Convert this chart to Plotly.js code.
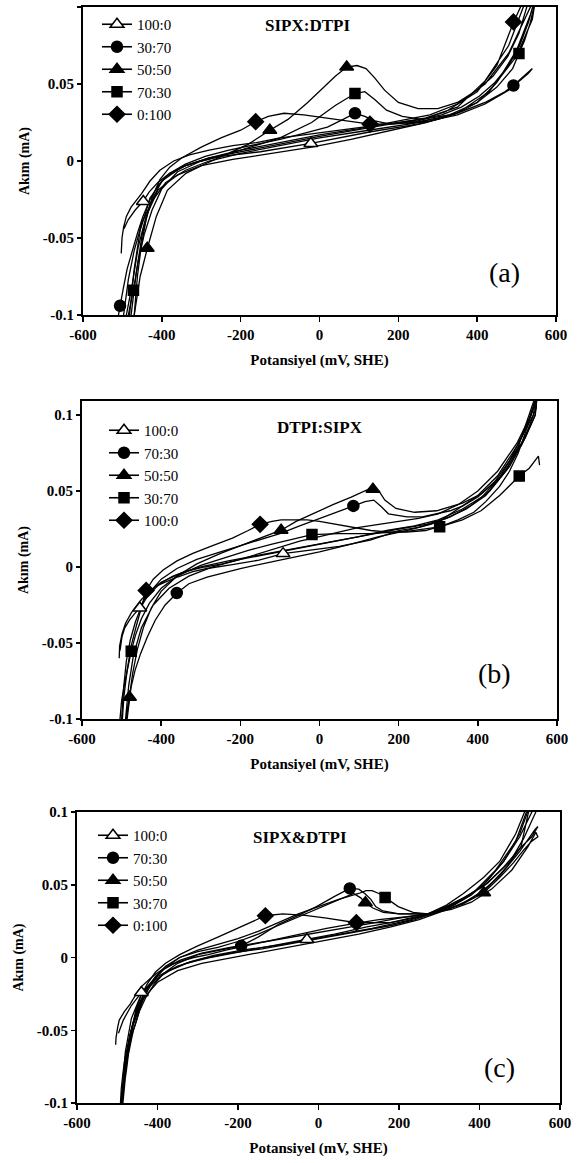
<!DOCTYPE html>
<html>
<head>
<meta charset="utf-8">
<script src="https://cdn.plot.ly/plotly-3.0.1.min.js"></script>
<style>html,body{margin:0;padding:0;background:#fff;}#chart{width:583px;height:1163px;}</style>
</head>
<body>
<div id="chart"></div>
<script>
// ---------- Panel (a) SIPX:DTPI ----------
const aTitle = 'SIPX:DTPI';
const aTag = '(a)';
const aLabels = ['100:0', '30:70', '50:50', '70:30', '0:100'];

const a1X = [-503,-501,-497,-490,-478,-465,-451,-430,-405,-370,-330,-280,-220,-160,-100,-40,20,80,140,200,260,310,360,405,445,480,508,530,545,552,535,500,450,400,350,300,250,130,-22,-150,-250,-300,-340,-380,-410,-432,-447,-468,-485,-496];
const a1Y = [-0.060,-0.050,-0.043,-0.036,-0.030,-0.026,-0.021,-0.013,-0.006,0.000,0.004,0.007,0.010,0.012,0.015,0.017,0.019,0.021,0.023,0.025,0.027,0.030,0.035,0.042,0.051,0.062,0.075,0.090,0.103,0.110,0.095,0.072,0.051,0.038,0.031,0.027,0.024,0.019,0.0114,0.006,0.003,0.000,-0.003,-0.008,-0.014,-0.020,-0.026,-0.032,-0.038,-0.044];
const a1MX = [-22, -447];
const a1MY = [0.0114, -0.0263];

const a2X = [-510,-506,-498,-488,-475,-462,-448,-430,-410,-380,-340,-290,-230,-160,-100,-40,20,60,90,115,140,180,240,300,360,420,470,492,515,540,530,480,420,350,280,200,100,0,-100,-200,-280,-340,-390,-425,-450,-470,-485,-497];
const a2Y = [-0.100,-0.094,-0.083,-0.070,-0.058,-0.047,-0.036,-0.025,-0.016,-0.008,-0.002,0.003,0.007,0.011,0.014,0.018,0.022,0.027,0.031,0.029,0.026,0.024,0.025,0.028,0.032,0.038,0.045,0.049,0.054,0.060,0.057,0.046,0.037,0.030,0.026,0.023,0.019,0.015,0.010,0.005,0.000,-0.006,-0.014,-0.026,-0.040,-0.058,-0.077,-0.100];
const a2MX = [90, 492, -506];
const a2MY = [0.031, 0.049, -0.094];

const a3X = [-470,-455,-437,-414,-386,-339,-283,-230,-180,-126,-80,-30,10,40,69,95,118,140,165,200,250,300,350,400,440,478,506,525,540,535,480,420,350,280,200,100,0,-100,-200,-280,-350,-400,-430,-450,-465,-478];
const a3Y = [-0.100,-0.075,-0.057,-0.036,-0.019,-0.008,-0.001,0.005,0.011,0.020,0.027,0.038,0.048,0.055,0.061,0.062,0.060,0.054,0.046,0.038,0.034,0.034,0.038,0.046,0.055,0.068,0.083,0.100,0.112,0.100,0.070,0.050,0.037,0.030,0.026,0.021,0.017,0.012,0.007,0.002,-0.004,-0.013,-0.028,-0.048,-0.073,-0.100];
const a3MX = [69, -126, -437];
const a3MY = [0.061, 0.020, -0.0566];

const a4X = [-485,-472,-460,-445,-425,-400,-360,-300,-200,-100,-20,40,90,115,140,170,210,260,330,400,450,490,506,520,535,548,540,500,430,350,270,180,80,-20,-120,-220,-300,-360,-410,-440,-460,-475,-490];
const a4Y = [-0.100,-0.084,-0.065,-0.048,-0.032,-0.018,-0.007,0.000,0.007,0.015,0.025,0.036,0.0438,0.045,0.040,0.033,0.029,0.027,0.030,0.038,0.048,0.060,0.0698,0.078,0.090,0.105,0.092,0.068,0.045,0.031,0.025,0.020,0.014,0.009,0.005,0.001,-0.003,-0.009,-0.019,-0.036,-0.056,-0.080,-0.100];
const a4MX = [90, 506, -472];
const a4MY = [0.0438, 0.0698, -0.084];

const a5X = [-470,-462,-452,-440,-425,-405,-380,-350,-300,-250,-200,-162,-130,-90,-40,20,80,128,180,250,320,400,450,492,510,520,532,480,420,350,270,180,80,0,-100,-200,-280,-340,-390,-430,-455,-470,-482];
const a5Y = [-0.100,-0.075,-0.055,-0.038,-0.024,-0.012,-0.004,0.002,0.009,0.015,0.020,0.0255,0.029,0.031,0.030,0.028,0.026,0.024,0.024,0.026,0.032,0.045,0.062,0.090,0.100,0.112,0.110,0.075,0.052,0.035,0.028,0.024,0.020,0.016,0.011,0.006,0.002,-0.003,-0.010,-0.024,-0.045,-0.070,-0.100];
const a5MX = [-162, 128, 492];
const a5MY = [0.0255, 0.024, 0.0903];

// ---------- Panel (b) DTPI:SIPX ----------
const bTitle = 'DTPI:SIPX';
const bTag = '(b)';
const bLabels = ['100:0', '70:30', '50:50', '30:70', '100:0'];

const b1X = [-506,-505,-499,-490,-475,-452,-430,-405,-370,-340,-290,-246,-200,-150,-100,-50,0,50,100,150,200,250,300,350,400,450,500,530,548,540,500,450,400,350,303,250,200,128,50,-92,-153,-220,-284,-320,-359,-390,-415,-440,-454,-468,-480,-492,-499,-504];
const b1Y = [-0.060,-0.052,-0.044,-0.037,-0.030,-0.022,-0.016,-0.011,-0.006,-0.003,0.000,0.002,0.005,0.009,0.013,0.017,0.020,0.023,0.026,0.028,0.030,0.032,0.035,0.041,0.050,0.063,0.082,0.098,0.112,0.100,0.080,0.060,0.047,0.038,0.030,0.026,0.024,0.0176,0.0135,0.0088,0.0045,0.0015,-0.001,-0.003,-0.0066,-0.010,-0.013,-0.020,-0.027,-0.031,-0.035,-0.040,-0.046,-0.055];
const b1MX = [-92, -454];
const b1MY = [0.0088, -0.027];

const b2X = [-500,-495,-488,-478,-465,-450,-430,-400,-360,-310,-250,-200,-150,-100,-50,0,40,85.6,115,137,155,174,200,221,260,296,330,361,400,440,480,510,535,550,545,520,480,430,380,330,280,220,150,80,0,-100,-200,-284,-330,-360,-390,-415,-435,-452,-466,-476,-482,-486];
const b2Y = [-0.100,-0.080,-0.062,-0.048,-0.036,-0.026,-0.017,-0.008,-0.001,0.005,0.010,0.014,0.018,0.022,0.027,0.032,0.036,0.0402,0.043,0.044,0.040,0.035,0.034,0.033,0.033,0.035,0.037,0.040,0.046,0.055,0.070,0.085,0.100,0.112,0.100,0.085,0.066,0.050,0.040,0.033,0.028,0.024,0.020,0.015,0.010,0.0045,-0.001,-0.0066,-0.011,-0.0171,-0.025,-0.035,-0.046,-0.057,-0.068,-0.079,-0.090,-0.100];
const b2MX = [85.6, -360.6];
const b2MY = [0.0402, -0.0171];

const b3X = [-488,-484,-480,-472,-460,-445,-425,-400,-360,-310,-250,-200,-150,-97,-59,-10,34,80,115,135,150,165,193,240,296,361,408,455,502,530,545,548,520,470,420,370,320,270,200,120,40,-40,-120,-200,-270,-330,-380,-420,-450,-470,-482,-490];
const b3Y = [-0.100,-0.093,-0.0857,-0.070,-0.054,-0.040,-0.027,-0.016,-0.006,0.002,0.009,0.014,0.019,0.0242,0.030,0.036,0.041,0.046,0.050,0.0525,0.050,0.044,0.0385,0.036,0.037,0.042,0.048,0.059,0.079,0.101,0.112,0.105,0.086,0.063,0.047,0.038,0.032,0.028,0.025,0.021,0.017,0.013,0.009,0.005,0.000,-0.006,-0.014,-0.025,-0.040,-0.058,-0.078,-0.100];
const b3MX = [135, -97, -480];
const b3MY = [0.0512, 0.0242, -0.0857];

const b4X = [-504,-500,-492,-484,-475.6,-465,-450,-430,-400,-360,-300,-240,-180,-120,-60,-19,50,128,221,303.5,361,408,455,504.6,530,544,553,556];
const b4Y = [-0.100,-0.088,-0.076,-0.065,-0.0554,-0.045,-0.034,-0.024,-0.014,-0.006,0.001,0.006,0.011,0.015,0.019,0.0213,0.022,0.022,0.0235,0.0264,0.031,0.037,0.047,0.0598,0.065,0.070,0.073,0.067];
const b4MX = [-19, 303.5, 504.6, -475.6];
const b4MY = [0.0213, 0.0264, 0.0598, -0.0554];

const b5X = [-498,-494,-486,-476,-462,-448,-438,-420,-395,-360,-320,-270,-220,-180,-150,-120,-97,-60,-31,0,40,81,130,174,220,268,315,350,390,420,455,480,502,525,539,548,545,510,460,410,360,300,240,170,100,20,-60,-150,-230,-300,-350,-400,-430];
const b5Y = [-0.100,-0.085,-0.068,-0.052,-0.038,-0.025,-0.0154,-0.008,-0.002,0.004,0.009,0.014,0.019,0.024,0.0281,0.030,0.031,0.031,0.031,0.030,0.028,0.026,0.024,0.023,0.023,0.024,0.0275,0.031,0.036,0.043,0.053,0.063,0.075,0.092,0.105,0.112,0.100,0.080,0.060,0.046,0.038,0.031,0.027,0.024,0.020,0.016,0.012,0.008,0.004,0.000,-0.004,-0.010,-0.018];
const b5MX = [-150, -438];
const b5MY = [0.0281, -0.0154];

// ---------- Panel (c) SIPX&DTPI ----------
const cTitle = 'SIPX&amp;DTPI';
const cTag = '(c)';
const cLabels = ['100:0', '70:30', '50:50', '30:70', '0:100'];

const c1X = [-504,-503,-499,-495,-482,-468,-455,-440,-420,-403,-375,-348,-310,-274,-230,-180,-130,-80,-30,20,80,150,220,272,318,360,410,450,480,503,521,535,530,500,460,420,380,330,272,226,133,50,-28.7,-100,-190,-260,-320,-370,-410,-440,-465,-485,-497];
const c1Y = [-0.060,-0.055,-0.048,-0.043,-0.037,-0.032,-0.026,-0.020,-0.015,-0.011,-0.006,-0.003,0.000,0.002,0.005,0.008,0.011,0.014,0.017,0.020,0.023,0.026,0.028,0.030,0.035,0.041,0.049,0.059,0.067,0.076,0.099,0.112,0.100,0.083,0.066,0.053,0.043,0.035,0.030,0.0257,0.020,0.016,0.0124,0.0085,0.005,0.0015,-0.003,-0.009,-0.016,-0.0241,-0.033,-0.043,-0.052];
const c1MX = [-28.7, -440];
const c1MY = [0.0124, -0.0241];

const c2X = [-490,-488,-485,-480,-476,-470,-465,-455,-445,-430,-410,-385,-350,-300,-250,-192,-150,-98,-50,-5,40,77.7,100,115,130,142,160,179,200,226,272,318,360,410,460,500,520,535,540,510,470,420,370,320,270,200,120,40,-40,-120,-200,-270,-330,-380,-420,-450,-470,-482,-488];
const c2Y = [-0.100,-0.092,-0.085,-0.077,-0.070,-0.062,-0.054,-0.046,-0.037,-0.028,-0.019,-0.011,-0.004,0.002,0.005,0.008,0.014,0.023,0.029,0.035,0.042,0.0475,0.047,0.044,0.040,0.035,0.032,0.031,0.030,0.030,0.030,0.034,0.040,0.050,0.066,0.085,0.100,0.112,0.100,0.082,0.063,0.048,0.039,0.033,0.029,0.025,0.021,0.016,0.012,0.008,0.004,0.000,-0.004,-0.010,-0.020,-0.035,-0.055,-0.077,-0.100];
const c2MX = [77.7, -192];
const c2MY = [0.0475, 0.008];

const c3X = [-486,-484,-480,-476,-472,-466,-460,-450,-440,-425,-405,-380,-345,-300,-250,-200,-150,-100,-50,0,50,87,105,116.5,135,161,200,240,272,318,360,410.5,450,484,510,530,545,540,520,480,430,380,330,272,200,120,40,-40,-130,-220,-290,-345,-390,-425,-450,-468,-480,-489];
const c3Y = [-0.100,-0.092,-0.083,-0.075,-0.066,-0.058,-0.050,-0.041,-0.032,-0.023,-0.014,-0.007,0.000,0.004,0.007,0.011,0.016,0.022,0.028,0.034,0.040,0.044,0.041,0.0377,0.034,0.031,0.030,0.030,0.030,0.033,0.037,0.0445,0.055,0.065,0.074,0.080,0.083,0.086,0.076,0.060,0.047,0.038,0.033,0.030,0.027,0.023,0.019,0.015,0.011,0.007,0.003,-0.002,-0.009,-0.020,-0.034,-0.053,-0.076,-0.100];
const c3MX = [116.5, 410.5];
const c3MY = [0.0377, 0.0445];

const c4X = [-492,-490,-486,-482,-476,-470,-462,-452,-440,-425,-405,-380,-345,-300,-250,-200,-150,-100,-50,0,50,100,118,133,150,165.5,198,235,272,318,370,420,460,500,530,545,538,500,450,400,350,300,250,180,100,20,-60,-140,-220,-290,-350,-400,-435,-460,-478,-490];
const c4Y = [-0.100,-0.090,-0.080,-0.071,-0.063,-0.055,-0.046,-0.038,-0.029,-0.021,-0.013,-0.006,0.000,0.005,0.009,0.013,0.018,0.024,0.030,0.035,0.040,0.044,0.046,0.046,0.044,0.0413,0.035,0.031,0.030,0.035,0.042,0.051,0.062,0.075,0.083,0.090,0.088,0.073,0.056,0.044,0.036,0.031,0.026,0.021,0.016,0.012,0.008,0.004,0.000,-0.004,-0.009,-0.017,-0.028,-0.046,-0.070,-0.100];
const c4MX = [165.5];
const c4MY = [0.0413];

const c5X = [-488,-485,-480,-474,-465,-455,-442,-425,-405,-380,-345,-300,-250,-200,-160,-132,-89,-33,20,94,179,226,272,318,360,410,450,490,512,525,530,490,440,390,340,290,240,180,100,20,-60,-140,-220,-290,-350,-400,-440,-465,-480,-490];
const c5Y = [-0.100,-0.088,-0.076,-0.063,-0.050,-0.038,-0.027,-0.018,-0.010,-0.004,0.002,0.008,0.014,0.020,0.025,0.0287,0.030,0.029,0.027,0.0239,0.024,0.027,0.030,0.036,0.044,0.055,0.066,0.085,0.100,0.112,0.110,0.080,0.060,0.046,0.037,0.031,0.026,0.022,0.018,0.014,0.010,0.006,0.003,-0.001,-0.006,-0.013,-0.025,-0.042,-0.065,-0.100];
const c5MX = [-132, 94];
const c5MY = [0.0287, 0.0239];

// axis ticks
const xTickVals = [-600, -400, -200, 0, 200, 400, 600];
const xTickText = ['-600', '-400', '-200', '0', '200', '400', '600'];
const yTickVals = [-0.1, -0.05, 0, 0.05, 0.1];
const yTickText = ['-0.1', '-0.05', '0', '0.05', '0.1'];
const xTitle = 'Potansiyel (mV, SHE)';
const yTitle = 'Akım (mA)';

// ---------- build ----------
const FONT = 'Liberation Serif, serif';
const W = 583, H = 1163;
const SYMS = [
  {symbol: 'triangle-up', color: '#ffffff', size: 12},
  {symbol: 'circle', color: '#000000', size: 11},
  {symbol: 'triangle-up', color: '#000000', size: 12},
  {symbol: 'square', color: '#000000', size: 10},
  {symbol: 'diamond', color: '#000000', size: 12}
];
function gapped(v) { const o = []; v.forEach((t, i) => { if (i) o.push(null); o.push(t); }); return o; }

const panels = [
  {labels: aLabels, curves: [[a1X,a1Y],[a2X,a2Y],[a3X,a3Y],[a4X,a4Y],[a5X,a5Y]],
   marks: [[a1MX,a1MY],[a2MX,a2MY],[a3MX,a3MY],[a4MX,a4MY],[a5MX,a5MY]]},
  {labels: bLabels, curves: [[b1X,b1Y],[b2X,b2Y],[b3X,b3Y],[b4X,b4Y],[b5X,b5Y]],
   marks: [[b1MX,b1MY],[b2MX,b2MY],[b3MX,b3MY],[b4MX,b4MY],[b5MX,b5MY]]},
  {labels: cLabels, curves: [[c1X,c1Y],[c2X,c2Y],[c3X,c3Y],[c4X,c4Y],[c5X,c5Y]],
   marks: [[c1MX,c1MY],[c2MX,c2MY],[c3MX,c3MY],[c4MX,c4MY],[c5MX,c5MY]]}
];

const traces = [];
panels.forEach((p, pi) => {
  const xa = pi === 0 ? 'x' : 'x' + (pi + 1);
  const ya = pi === 0 ? 'y' : 'y' + (pi + 1);
  p.curves.forEach((c) => {
    traces.push({type: 'scatter', mode: 'lines', x: c[0], y: c[1], xaxis: xa, yaxis: ya,
      line: {color: '#000', width: 1.3}, showlegend: false, hoverinfo: 'skip'});
  });
});
panels.forEach((p, pi) => {
  const xa = pi === 0 ? 'x' : 'x' + (pi + 1);
  const ya = pi === 0 ? 'y' : 'y' + (pi + 1);
  const lg = pi === 0 ? 'legend' : 'legend' + (pi + 1);
  p.marks.forEach((m, si) => {
    const s = SYMS[si];
    traces.push({type: 'scatter', mode: 'lines+markers', name: p.labels[si],
      x: gapped(m[0]), y: gapped(m[1]), xaxis: xa, yaxis: ya, legend: lg, connectgaps: false,
      line: {color: '#000', width: 1.6}, cliponaxis: false,
      marker: {symbol: s.symbol, color: s.color, size: s.size, line: {color: '#000', width: 1.5}}});
  });
});

// geometry (pixels)
const geo = [
  {x0: 83, x1: 556, y0: 7, y1: 315, yr: [-0.1, 0.1]},
  {x0: 82, x1: 557, y0: 401, y1: 719, yr: [-0.1, 0.1092]},
  {x0: 77, x1: 560, y0: 812, y1: 1103, yr: [-0.1, 0.1]}
];
const tickFont = {family: FONT, size: 15, color: '#000', weight: 'bold'};
const titleFont = {family: FONT, size: 15, color: '#000', weight: 'bold'};
const layout = {
  width: W, height: H, margin: {l: 0, r: 0, t: 0, b: 0},
  paper_bgcolor: '#fff', plot_bgcolor: '#fff', showlegend: true,
  font: {family: FONT, color: '#000'},
  annotations: []
};
const legPos = [
  {x: 97, y: 8}, {x: 104, y: 414}, {x: 93, y: 819}
];
const titles = [aTitle, bTitle, cTitle];
const tags = [aTag, bTag, cTag];
const titlePos = [[307, 26], [320, 427], [300, 837]];
const tagPos = [[504, 272], [494, 673], [499, 1067]];
geo.forEach((g, i) => {
  const sfx = i === 0 ? '' : String(i + 1);
  layout['xaxis' + sfx] = {
    domain: [g.x0 / W, g.x1 / W], range: [-600, 600], anchor: 'y' + sfx,
    tickvals: xTickVals, ticktext: xTickText, tickfont: tickFont,
    ticks: 'outside', ticklen: 5, tickwidth: 1.5, tickcolor: '#000',
    showline: true, mirror: true, linecolor: '#000', linewidth: 2,
    showgrid: false, zeroline: false, fixedrange: true,
    title: {text: xTitle, font: titleFont, standoff: 12}
  };
  layout['yaxis' + sfx] = {
    domain: [1 - g.y1 / H, 1 - g.y0 / H], range: g.yr, anchor: 'x' + sfx,
    tickvals: yTickVals, ticktext: yTickText, tickfont: tickFont,
    ticks: 'outside', ticklen: 4, tickwidth: 1.5, tickcolor: '#000',
    showline: true, mirror: true, linecolor: '#000', linewidth: 2,
    showgrid: false, zeroline: false, fixedrange: true,
    title: {text: yTitle, font: {family: FONT, size: 14, color: '#000', weight: 'bold'}, standoff: 10}
  };
  layout[i === 0 ? 'legend' : 'legend' + (i + 1)] = {
    x: legPos[i].x / W, y: 1 - legPos[i].y / H, xanchor: 'left', yanchor: 'top',
    bgcolor: 'rgba(0,0,0,0)', borderwidth: 0, tracegroupgap: 0,
    font: {family: FONT, size: 15, color: '#000'}, itemclick: false, itemdoubleclick: false
  };
  layout.annotations.push({xref: 'paper', yref: 'paper', x: titlePos[i][0] / W, y: 1 - titlePos[i][1] / H,
    text: titles[i], showarrow: false, xanchor: 'center', yanchor: 'middle',
    font: {family: FONT, size: 17, color: '#000', weight: 'bold'}});
  layout.annotations.push({xref: 'paper', yref: 'paper', x: tagPos[i][0] / W, y: 1 - tagPos[i][1] / H,
    text: tags[i], showarrow: false, xanchor: 'center', yanchor: 'middle',
    font: {family: FONT, size: 28, color: '#000'}});
});

Plotly.newPlot('chart', traces, layout, {displayModeBar: false, staticPlot: true});
</script>
</body>
</html>
